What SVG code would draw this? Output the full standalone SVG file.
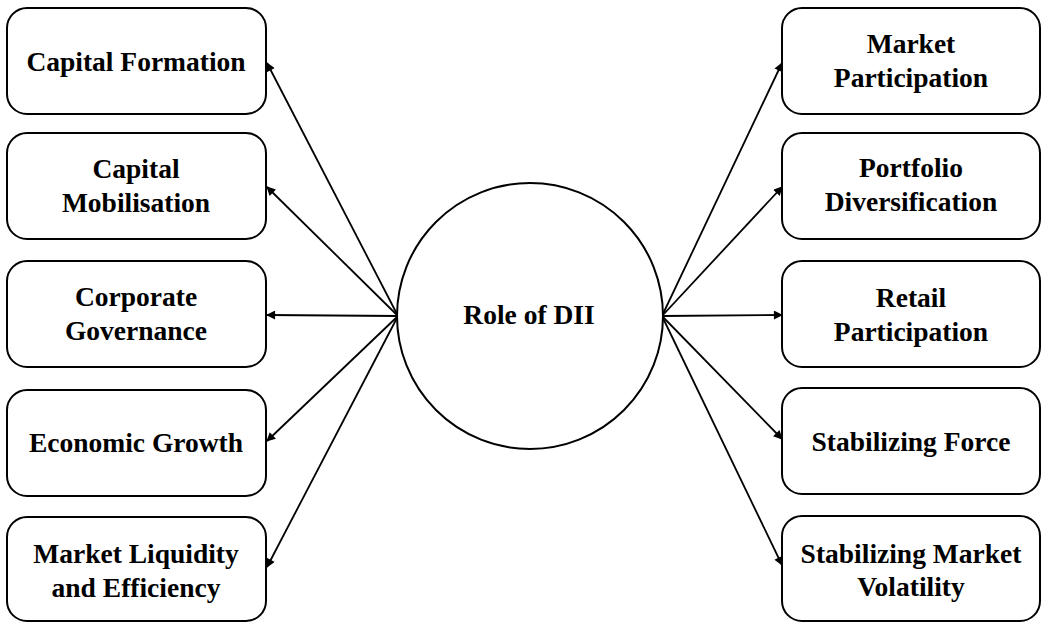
<svg xmlns="http://www.w3.org/2000/svg" width="1045" height="623" viewBox="0 0 1045 623">
<style>
.box{fill:#fff;stroke:#000;stroke-width:2}
.t{font-family:"Liberation Serif","Times New Roman",serif;font-weight:bold;font-size:27.5px;text-anchor:middle;fill:#000}
.c{stroke:#000;stroke-width:1.8;fill:none;marker-end:url(#ah)}
</style>
<defs>
<marker id="ah" viewBox="0 0 10 10" refX="9" refY="5" markerWidth="5.5" markerHeight="5" orient="auto" markerUnits="strokeWidth">
<path d="M0,0 L10,5 L0,10 z" fill="#000"/>
</marker>
</defs>
<rect width="1045" height="623" fill="#fff"/>
<g id="connectors">
<line class="c" x1="398" y1="316" x2="267" y2="63"/>
<line class="c" x1="398" y1="316" x2="267" y2="187"/>
<line class="c" x1="398" y1="316" x2="267" y2="315"/>
<line class="c" x1="398" y1="316" x2="267" y2="441"/>
<line class="c" x1="398" y1="316" x2="267" y2="567"/>
<line class="c" x1="662" y1="316" x2="782" y2="63"/>
<line class="c" x1="662" y1="316" x2="782" y2="187"/>
<line class="c" x1="662" y1="316" x2="782" y2="315"/>
<line class="c" x1="662" y1="316" x2="782" y2="439"/>
<line class="c" x1="662" y1="316" x2="782" y2="565"/>
</g>
<g id="center">
<circle cx="530" cy="316" r="133" fill="#fff" stroke="#000" stroke-width="2"/>
<text class="t" x="529" y="324">Role of DII</text>
</g>
<g id="capital-formation">
<rect class="box" x="7" y="8" width="259" height="106" rx="20"/>
<text class="t" x="136" y="71">Capital Formation</text>
</g>
<g id="capital-mobilisation">
<rect class="box" x="7" y="133" width="259" height="106" rx="20"/>
<text class="t" x="136" y="178">Capital</text>
<text class="t" x="136" y="212">Mobilisation</text>
</g>
<g id="corporate-governance">
<rect class="box" x="7" y="261" width="259" height="106" rx="20"/>
<text class="t" x="136" y="306">Corporate</text>
<text class="t" x="136" y="340">Governance</text>
</g>
<g id="economic-growth">
<rect class="box" x="7" y="390" width="259" height="106" rx="20"/>
<text class="t" x="136" y="452">Economic Growth</text>
</g>
<g id="market-liquidity">
<rect class="box" x="7" y="517" width="259" height="104" rx="20"/>
<text class="t" x="136" y="563">Market Liquidity</text>
<text class="t" x="136" y="597">and Efficiency</text>
</g>
<g id="market-participation">
<rect class="box" x="782" y="8" width="258" height="106" rx="20"/>
<text class="t" x="911" y="53">Market</text>
<text class="t" x="911" y="87">Participation</text>
</g>
<g id="portfolio-diversification">
<rect class="box" x="782" y="133" width="258" height="106" rx="20"/>
<text class="t" x="911" y="177">Portfolio</text>
<text class="t" x="911" y="211">Diversification</text>
</g>
<g id="retail-participation">
<rect class="box" x="782" y="261" width="258" height="106" rx="20"/>
<text class="t" x="911" y="307">Retail</text>
<text class="t" x="911" y="341">Participation</text>
</g>
<g id="stabilizing-force">
<rect class="box" x="782" y="388" width="258" height="106" rx="20"/>
<text class="t" x="911" y="451">Stabilizing Force</text>
</g>
<g id="stabilizing-market-volatility">
<rect class="box" x="782" y="516" width="258" height="105" rx="20"/>
<text class="t" x="911" y="563">Stabilizing Market</text>
<text class="t" x="911" y="596">Volatility</text>
</g>
</svg>
